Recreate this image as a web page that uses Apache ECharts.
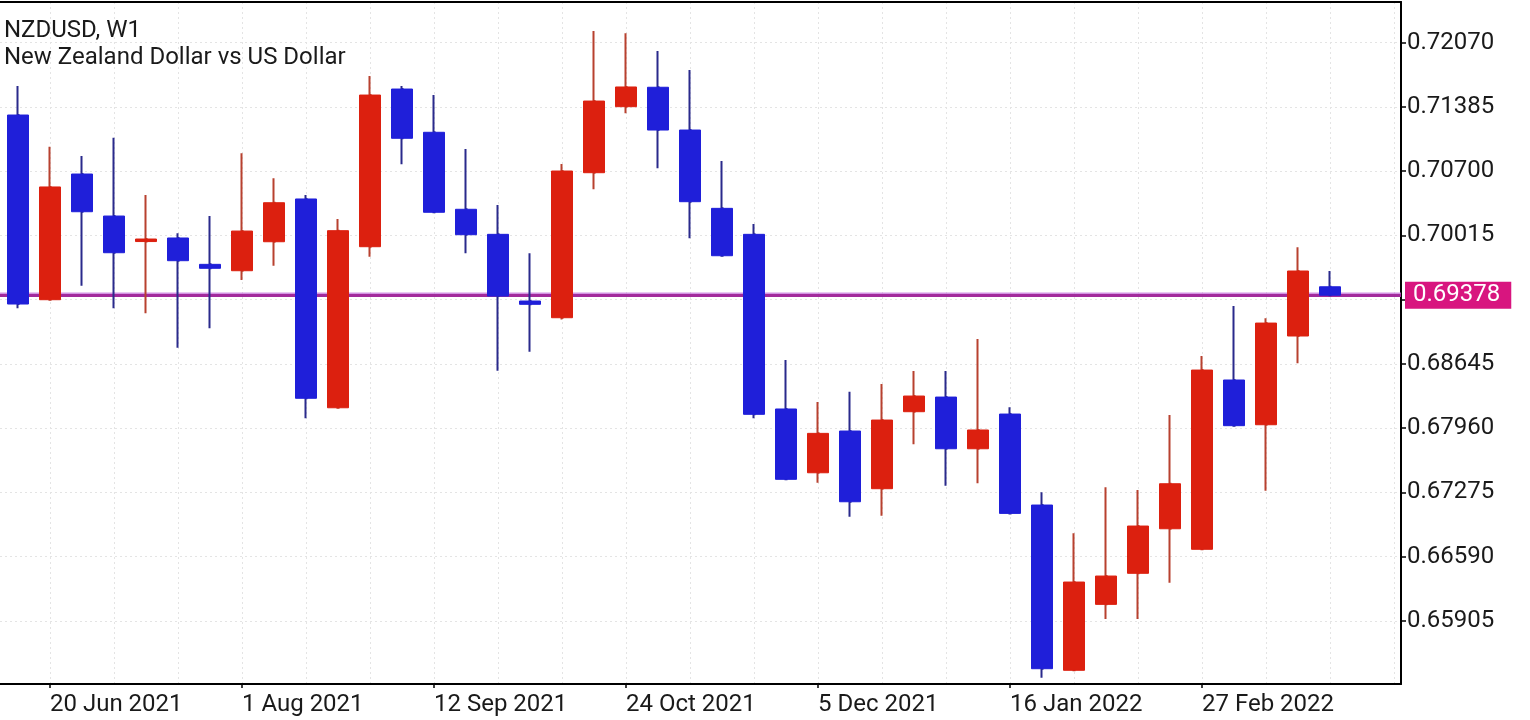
<!DOCTYPE html>
<html>
<head>
<meta charset="utf-8">
<script src="https://cdn.jsdelivr.net/npm/echarts@6/dist/echarts.min.js"></script>
<style>
html,body{margin:0;padding:0;background:#fff;}
#chart{width:1530px;height:720px;}
</style>
</head>
<body>
<div id="chart"></div>
<script>
const weeks = ['13 Jun 2021','20 Jun 2021','27 Jun 2021','4 Jul 2021','11 Jul 2021','18 Jul 2021','25 Jul 2021','1 Aug 2021','8 Aug 2021','15 Aug 2021','22 Aug 2021','29 Aug 2021','5 Sep 2021','12 Sep 2021','19 Sep 2021','26 Sep 2021','3 Oct 2021','10 Oct 2021','17 Oct 2021','24 Oct 2021','31 Oct 2021','7 Nov 2021','14 Nov 2021','21 Nov 2021','28 Nov 2021','5 Dec 2021','12 Dec 2021','19 Dec 2021','26 Dec 2021','2 Jan 2022','9 Jan 2022','16 Jan 2022','23 Jan 2022','30 Jan 2022','6 Feb 2022','13 Feb 2022','20 Feb 2022','27 Feb 2022','6 Mar 2022','13 Mar 2022','20 Mar 2022','27 Mar 2022'];
const open  = [0.71299,0.69330,0.70670,0.70222,0.69950,0.69988,0.69707,0.69639,0.69948,0.70404,0.68178,0.69895,0.71576,0.71115,0.70294,0.70027,0.69316,0.69138,0.70684,0.71388,0.71595,0.71139,0.70304,0.70027,0.68165,0.67485,0.67930,0.67315,0.68136,0.68292,0.67741,0.68111,0.67141,0.65379,0.66082,0.66413,0.66888,0.66669,0.68474,0.67997,0.68943,0.69468];
const close = [0.69284,0.70532,0.70268,0.69831,0.69977,0.69746,0.69665,0.70062,0.70364,0.68279,0.70066,0.71512,0.71051,0.70262,0.70023,0.69369,0.69281,0.70702,0.71448,0.71598,0.71139,0.70375,0.69799,0.68108,0.67415,0.67905,0.67176,0.68047,0.68303,0.67741,0.67941,0.67052,0.65396,0.66320,0.66384,0.66917,0.67368,0.68580,0.67987,0.69081,0.69636,0.69378];
const low   = [0.69238,0.69319,0.69479,0.69238,0.69185,0.68818,0.69025,0.69540,0.69692,0.68065,0.68170,0.69788,0.70774,0.70257,0.69825,0.68573,0.68775,0.69119,0.70507,0.71317,0.70731,0.69985,0.69791,0.68065,0.67408,0.67379,0.67016,0.67027,0.67788,0.67347,0.67372,0.67045,0.65300,0.65371,0.65926,0.65926,0.66313,0.66667,0.67976,0.67293,0.68652,0.69378];
const high  = [0.71608,0.70961,0.70862,0.71057,0.70446,0.70038,0.70222,0.70891,0.70624,0.70446,0.70190,0.71715,0.71608,0.71512,0.70937,0.70340,0.69825,0.70777,0.72195,0.72170,0.71982,0.71779,0.70809,0.70137,0.68687,0.68239,0.68349,0.68431,0.68570,0.68570,0.68911,0.68183,0.67276,0.66839,0.67330,0.67301,0.68101,0.68730,0.69263,0.69132,0.69889,0.69636];
const currentPrice = 0.69378;
const priceTicks = [0.65905,0.66590,0.67275,0.67960,0.68645,0.69330,0.70015,0.70700,0.71385,0.72070];
const priceLabels = [0.65905,0.66590,0.67275,0.67960,0.68645,0.70015,0.70700,0.71385,0.72070];
const dateLabelIdx = [1,7,13,19,25,31,37];
const gridIdx = [1,3,5,7,9,11,13,15,17,19,21,23,25,27,29,31,33,35,37,39,41,43];
const title = 'NZDUSD, W1';
const subtitle = 'New Zealand Dollar vs US Dollar';

const wickData = weeks.map((w,i)=>[i, open[i], close[i], low[i], high[i]]);
const bodyData = weeks.map((w,i)=>[i, open[i], close[i], Math.min(open[i],close[i]), Math.max(open[i],close[i])]);

const FONT = 'Roboto';
const FS_T = 24;
const FS = 24;
const chart = echarts.init(document.getElementById('chart'), null, {renderer:'canvas'});
chart.setOption({
  animation:false,
  backgroundColor:'#ffffff',
  textStyle:{fontFamily:FONT},
  title:{
    text:title, subtext:subtitle, left:4, top:19, itemGap:3, padding:0,
    textStyle:{fontFamily:FONT,fontSize:FS_T,fontWeight:'normal',color:'#1a1a1a'},
    subtextStyle:{fontFamily:FONT,fontSize:FS_T,color:'#1a1a1a'}
  },
  grid:{left:0,right:129,top:2,bottom:36,containLabel:false},
  xAxis:[{
    type:'value', min:-0.5625, max:43.21875, position:'bottom',
    axisLine:{show:true,onZero:false,lineStyle:{color:'#000',width:2}},
    axisTick:{show:true,customValues:dateLabelIdx,length:4,lineStyle:{color:'#000',width:1.5}},
    axisLabel:{show:true,customValues:dateLabelIdx,formatter:v=>weeks[Math.round(v)],
      align:'left',margin:9,fontFamily:FONT,fontSize:FS,color:'#1a1a1a',showMinLabel:true,showMaxLabel:true},
    splitLine:{show:false}
  },{
    type:'value', min:-0.5625, max:43.21875, position:'top',
    axisLine:{show:true,onZero:false,lineStyle:{color:'#000',width:2}},
    axisTick:{show:false,customValues:gridIdx},
    axisLabel:{show:false},
    splitLine:{show:true,lineStyle:{color:'#e4e4e4',type:[2,3],width:1}}
  }],
  yAxis:{
    type:'value', min:0.65233, max:0.72504, position:'right', scale:true,
    axisLine:{show:true,onZero:false,lineStyle:{color:'#000',width:2}},
    axisTick:{show:true,customValues:priceTicks,length:5,inside:false,lineStyle:{color:'#000',width:1.5}},
    axisLabel:{show:true,customValues:priceLabels,formatter:v=>v.toFixed(5),margin:6,
      fontFamily:FONT,fontSize:FS,color:'#1a1a1a'},
    splitLine:{show:true,lineStyle:{color:'#e4e4e4',type:[2,3],width:1}}
  },
  series:[{
    type:'candlestick', name:'wick', data:wickData, z:3,
    encode:{x:0,y:[1,2,3,4]}, barWidth:2,
    itemStyle:{color:'#b8412f',color0:'#2a2a8c',borderColor:'#b8412f',borderColor0:'#2a2a8c',borderWidth:2},
    markLine:{
      symbol:'none', silent:true, z:2, precision:5,
      lineStyle:{color:'#a22a9c',width:3,type:'solid',shadowColor:'rgba(200,120,220,0.8)',shadowBlur:0,shadowOffsetY:-1.5},
      label:{show:true,position:'end',distance:4,formatter:()=>currentPrice.toFixed(5),
        color:'#ffffff',backgroundColor:'#d8157f',padding:[2,11,1,8],
        fontFamily:FONT,fontSize:FS},
      data:[{yAxis:currentPrice}]
    }
  },{
    type:'candlestick', name:'body', data:bodyData, z:4,
    encode:{x:0,y:[1,2,3,4]}, barWidth:21,
    itemStyle:{color:'#dc200f',color0:'#1f1fd9',borderColor:'#dc200f',borderColor0:'#1f1fd9',borderWidth:1}
  }]
});
</script>
</body>
</html>
